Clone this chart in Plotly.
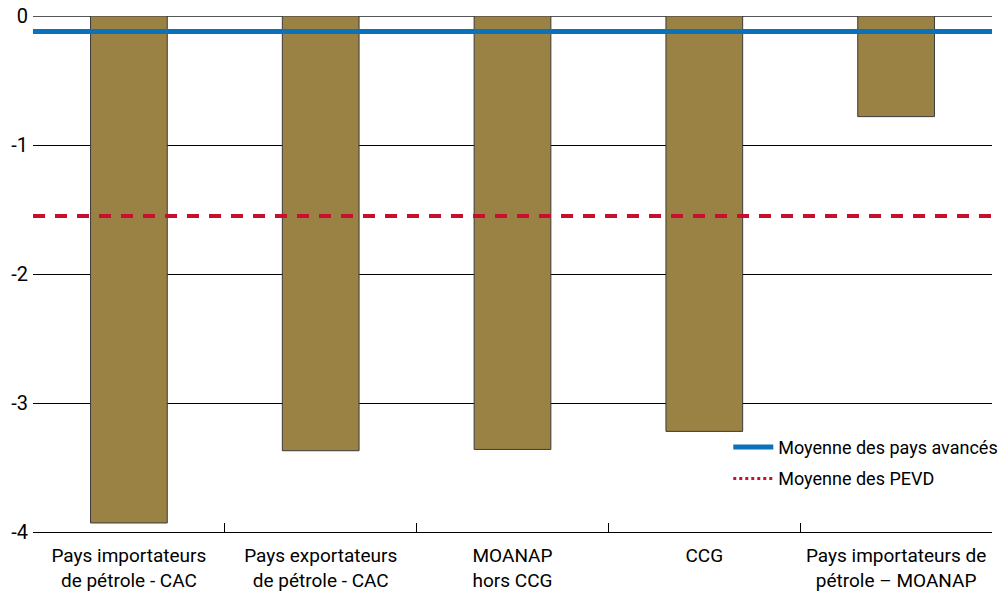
import plotly.graph_objects as go

categories = [
    "Pays importateurs<br>de pétrole - CAC",
    "Pays exportateurs<br>de pétrole - CAC",
    "MOANAP<br>hors CCG",
    "CCG",
    "Pays importateurs de<br>pétrole – MOANAP",
]
values = [-3.93, -3.37, -3.36, -3.22, -0.78]
avg_advanced = -0.12
avg_pevd = -1.55

FONT = "Roboto, sans-serif"

fig = go.Figure()

fig.add_trace(go.Bar(
    x=categories,
    y=values,
    width=0.4,
    marker=dict(color="#9a8244", line=dict(color="#3a3a3a", width=1)),
    showlegend=False,
    hoverinfo="x+y",
))

# Reference lines spanning the full plot width (overlay axis in [0, 1])
fig.add_trace(go.Scatter(
    x=[0, 1], y=[avg_advanced, avg_advanced],
    xaxis="x2", mode="lines",
    line=dict(color="#0a72ba", width=5),
    name="Moyenne des pays avancés",
    legendgroup="a",
))
fig.add_trace(go.Scatter(
    x=[0, 1], y=[avg_pevd, avg_pevd],
    xaxis="x2", mode="lines",
    line=dict(color="#c8102e", width=4, dash="12px,10px"),
    name="Moyenne des PEVD",
    showlegend=False,
))
# Legend entry for the PEVD average, drawn dotted
fig.add_trace(go.Scatter(
    x=[None], y=[None],
    xaxis="x2", mode="lines",
    line=dict(color="#c8102e", width=3, dash="dot"),
    name="Moyenne des PEVD",
    legendgroup="b",
))

fig.update_layout(
    width=1008, height=596,
    margin=dict(l=33, r=16, t=16, b=64, autoexpand=False),
    paper_bgcolor="white", plot_bgcolor="white",
    font=dict(family=FONT, size=20, color="black"),
    xaxis=dict(
        type="category",
        showgrid=False,
        showline=True, linecolor="black", linewidth=1,
        ticks="inside", ticklen=9, tickcolor="black",
        tickson="boundaries",
        tickfont=dict(size=19),
        tickangle=0,
        ticklabelstandoff=6,
        range=[-0.5, 4.5],
        automargin=False,
    ),
    xaxis2=dict(
        overlaying="x", range=[0, 1], visible=False, fixedrange=True,
    ),
    yaxis=dict(
        range=[-4, 0],
        tickvals=[0, -1, -2, -3, -4],
        ticktext=["0", "-1", "-2", "-3", "-4"],
        showgrid=True, gridcolor="black", gridwidth=1,
        zeroline=True, zerolinecolor="#555555", zerolinewidth=1,
        ticks="", ticklabelstandoff=4,
        tickfont=dict(size=20),
        showline=False,
        automargin=False,
    ),
    legend=dict(
        x=0.725, y=0.2, xanchor="left", yanchor="top",
        bgcolor="rgba(0,0,0,0)",
        font=dict(size=18),
        itemwidth=40,
        traceorder="grouped", tracegroupgap=5,
    ),
)

fig.write_html("out.html")
